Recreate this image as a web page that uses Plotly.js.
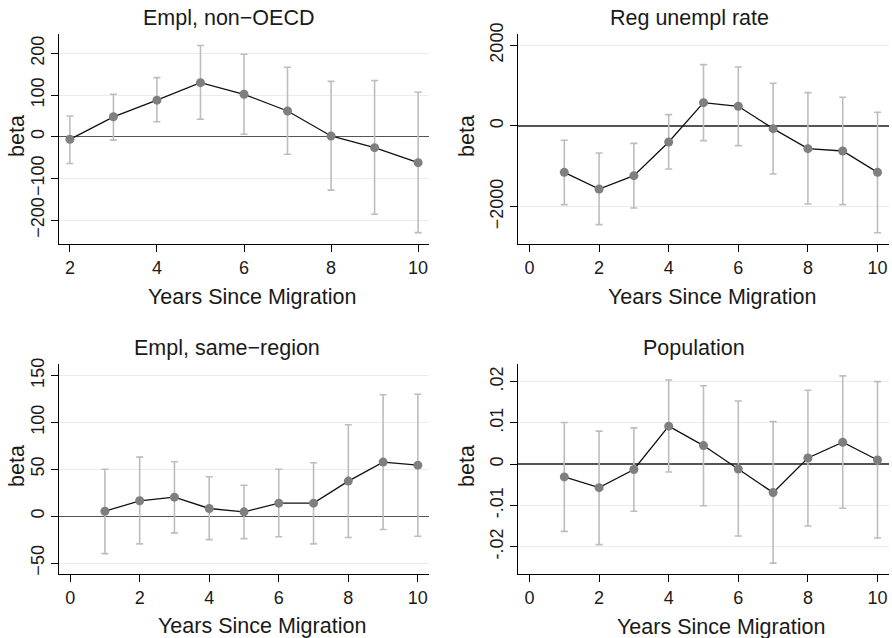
<!DOCTYPE html>
<html>
<head>
<meta charset="utf-8">
<script src="https://cdn.plot.ly/plotly-3.0.1.min.js"></script>
<style>html,body{margin:0;padding:0;background:#fff;}#chart{width:892px;height:638px;}</style>
</head>
<body>
<div id="chart"></div>
<script>
// ---- data ----
const years1 = [2, 3, 4, 5, 6, 7, 8, 9, 10];
const beta1 = [-6, 48, 88, 130, 102, 62, 2, -26, -62];
const hi1 = [50, 102, 142, 219, 198, 167, 133, 135, 107];
const lo1 = [-64, -8, 36, 42, 6, -42, -128, -186, -230];

const years = [1, 2, 3, 4, 5, 6, 7, 8, 9, 10];
const beta2 = [-1149, -1562, -1231, -397, 578, 488, -66, -562, -620, -1149];
const hi2 = [-355, -669, -430, 281, 1521, 1463, 1058, 826, 711, 339];
const lo2 = [-1950, -2446, -2033, -1066, -364, -488, -1190, -1934, -1950, -2645];

const beta3 = [5.3, 16.4, 20.3, 8.2, 4.6, 13.9, 13.9, 37.4, 57.7, 54.4];
const hi3 = [50, 63, 58, 42, 33, 50, 57, 97.5, 129.5, 130];
const lo3 = [-40, -29.5, -17.8, -25, -24, -22, -29.5, -22.8, -14.2, -21.4];

const beta4 = [-0.0031, -0.0057, -0.0013, 0.0092, 0.0045, -0.0012, -0.0069, 0.0015, 0.0053, 0.0010];
const hi4 = [0.0101, 0.0080, 0.0088, 0.0204, 0.0190, 0.0153, 0.0103, 0.0179, 0.0214, 0.0200];
const lo4 = [-0.0163, -0.0195, -0.0114, -0.0019, -0.0101, -0.0174, -0.0240, -0.0150, -0.0107, -0.0179];

const panelTitles = ["Empl, non\u2212OECD", "Reg unempl rate", "Empl, same\u2212region", "Population"];
const xTitle = "Years Since Migration";
const yTitle = "beta";

const xTicks1 = [2, 4, 6, 8, 10];
const xTicks = [0, 2, 4, 6, 8, 10];
const yTicks1 = [-200, -100, 0, 100, 200];
const yTicks2 = [-2000, 0, 2000];
const yTicks3 = [-50, 0, 50, 100, 150];
const yTicks4 = [-0.02, -0.01, 0, 0.01, 0.02];
const yTickText4 = ["-.02", "-.01", "0", ".01", ".02"];

// ---- layout helpers ----
const W = 892, H = 638;
const FONT = "Liberation Sans, Arial, Helvetica, sans-serif";
const TXT = "#1a1a1a";
const px = v => v / W;
const py = v => 1 - v / H;

function trace(x, y, hi, lo, xa, ya) {
  return {
    x: x, y: y, xaxis: xa, yaxis: ya, type: "scatter", mode: "lines+markers",
    line: {color: "#111111", width: 1.3},
    marker: {color: "#7f7f7f", size: 9},
    error_y: {
      type: "data", symmetric: false,
      array: hi.map((h, i) => h - y[i]),
      arrayminus: lo.map((l, i) => y[i] - l),
      color: "#bdbdbd", thickness: 1.6, width: 3.5
    },
    showlegend: false, hoverinfo: "skip"
  };
}

function xax(dom, anchor, range, tv) {
  return {
    domain: dom, anchor: anchor, range: range, tickvals: tv,
    showgrid: false, zeroline: false, showline: true, linecolor: "#000", linewidth: 1,
    ticks: "outside", ticklen: 7, tickcolor: "#000", tickwidth: 1,
    tickfont: {family: FONT, size: 18, color: TXT}
  };
}
function yax(dom, anchor, range, tv, tt) {
  const a = {
    domain: dom, anchor: anchor, range: range, tickvals: tv,
    showgrid: true, gridcolor: "#ebebeb", gridwidth: 1,
    zeroline: true, zerolinecolor: "#555555", zerolinewidth: 1.3,
    showline: true, linecolor: "#000", linewidth: 1,
    ticks: "outside", ticklen: 7, tickcolor: "#000", tickwidth: 1,
    tickangle: -90,
    tickfont: {family: FONT, size: 18, color: TXT}
  };
  if (tt) a.ticktext = tt;
  return a;
}

const xL = [px(59), px(429)], xR = [px(518), px(889)];
const yT = [py(244.3), py(34.3)], yB = [py(574.3), py(364.3)];

const data = [
  trace(years1, beta1, hi1, lo1, "x", "y"),
  trace(years, beta2, hi2, lo2, "x2", "y2"),
  trace(years, beta3, hi3, lo3, "x3", "y3"),
  trace(years, beta4, hi4, lo4, "x4", "y4")
];

function ann(text, x, y, size, angle) {
  return {text: text, x: px(x), y: py(y), xref: "paper", yref: "paper",
    xanchor: "center", yanchor: "middle", showarrow: false, textangle: angle || 0,
    font: {family: FONT, size: size, color: TXT}};
}

const layout = {
  width: W, height: H, margin: {l: 0, r: 0, t: 0, b: 0},
  paper_bgcolor: "#ffffff", plot_bgcolor: "#ffffff",
  xaxis: xax(xL, "y", [1.75, 10.25], xTicks1),
  yaxis: yax(yT, "x", [-258, 246], yTicks1),
  xaxis2: xax(xR, "y2", [-0.33, 10.33], xTicks),
  yaxis2: yax(yT, "x2", [-2933, 2273], yTicks2),
  xaxis3: xax(xL, "y3", [-0.32, 10.32], xTicks),
  yaxis3: yax(yB, "x3", [-62, 162], yTicks3),
  xaxis4: xax(xR, "y4", [-0.33, 10.33], xTicks),
  yaxis4: yax(yB, "x4", [-0.0267, 0.0242], yTicks4, yTickText4),
  annotations: [
    ann(panelTitles[0], 228, 18, 21.5),
    ann(panelTitles[1], 689, 18, 21.5),
    ann(panelTitles[2], 227, 348, 21.5),
    ann(panelTitles[3], 694, 348, 21.5),
    ann(xTitle, 252, 297, 21.5),
    ann(xTitle, 712, 297, 21.5),
    ann(xTitle, 262, 626, 21.5),
    ann(xTitle, 721, 627, 21.5),
    ann(yTitle, 17, 136, 21.5, -90),
    ann(yTitle, 467, 136, 21.5, -90),
    ann(yTitle, 17, 466, 21.5, -90),
    ann(yTitle, 467, 466, 21.5, -90)
  ]
};

Plotly.newPlot("chart", data, layout, {staticPlot: true, displayModeBar: false});
</script>
</body>
</html>
